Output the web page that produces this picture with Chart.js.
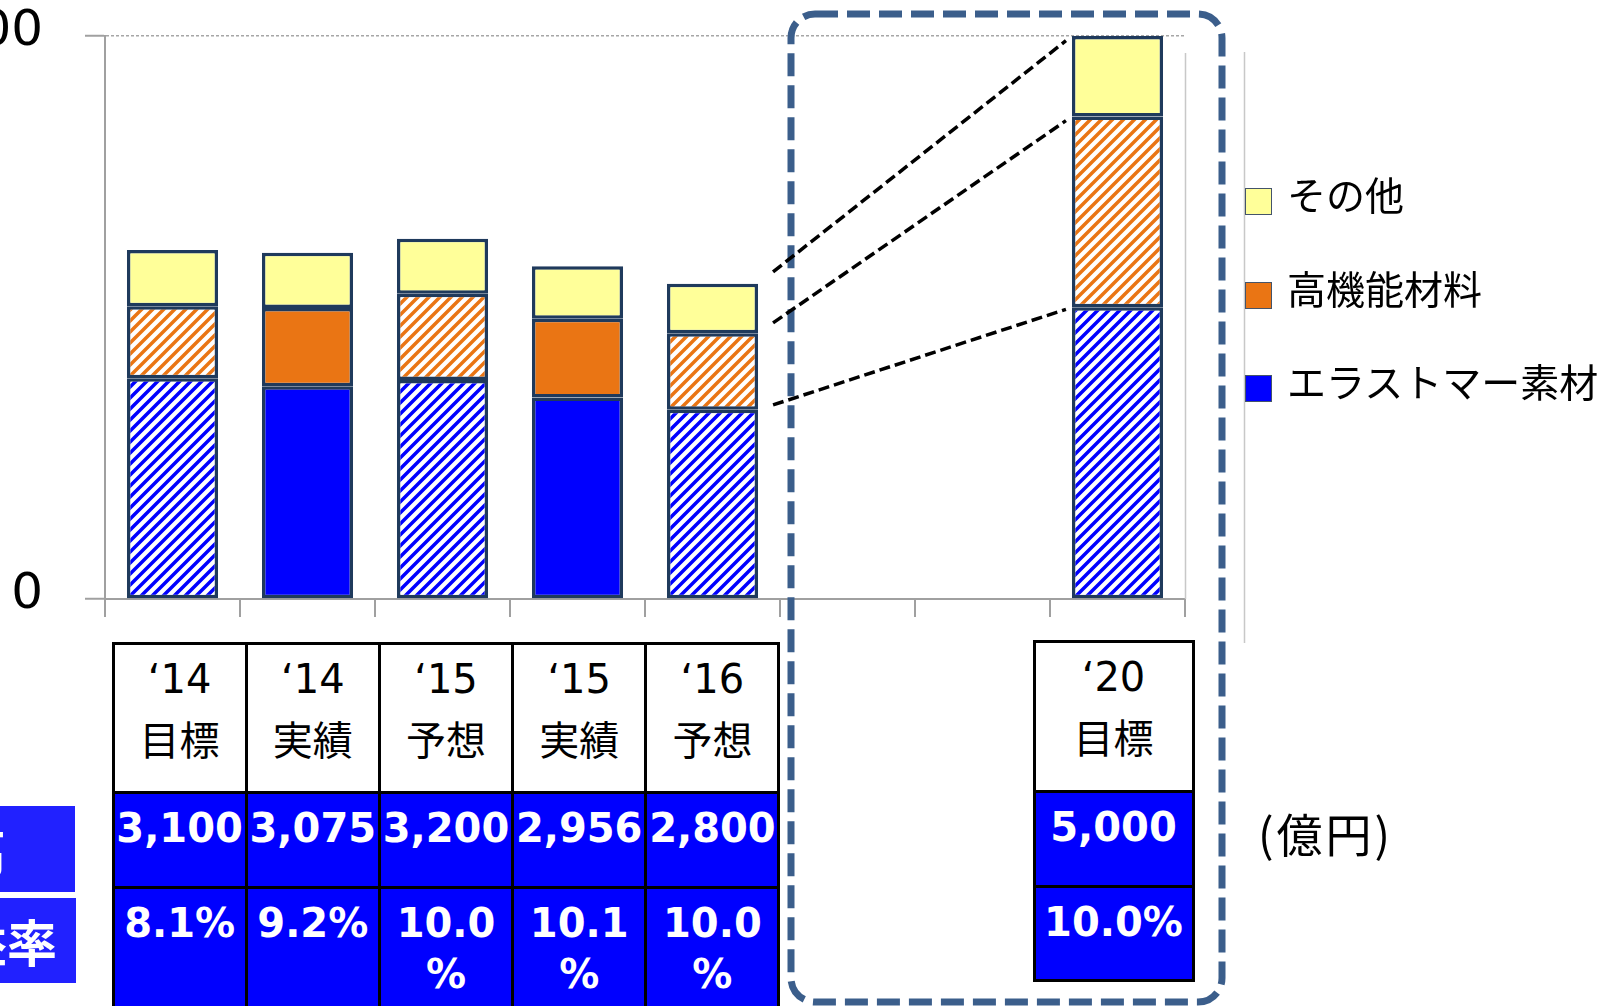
<!DOCTYPE html>
<html>
<head>
<meta charset="utf-8">
<script src="https://cdn.jsdelivr.net/npm/chart.js@4/dist/chart.umd.min.js"></script>
<style>
html,body{margin:0;padding:0;width:1607px;height:1006px;overflow:hidden;background:#fff;}
#c{position:absolute;left:0;top:0;}
.cell{position:absolute;box-sizing:border-box;border:3px solid #000;text-align:center;overflow:hidden;}
.hd{background:#fff;color:#000;font:40px "DejaVu Sans","Noto Sans CJK JP",sans-serif;line-height:62px;padding-top:3px;}
.bl{background:#0000FF;color:#fff;font:bold 40px "DejaVu Sans","Noto Sans CJK JP",sans-serif;line-height:51px;padding-top:9px;}
.side{position:absolute;background:#2121FF;color:#fff;font:bold 50px "Noto Sans CJK JP",sans-serif;text-align:center;white-space:nowrap;}
.lg{position:absolute;left:1245px;width:27px;height:27px;box-sizing:border-box;border:1.5px solid #44546A;}
.lt{position:absolute;left:1287px;font:39px "Noto Sans CJK JP",sans-serif;color:#000;line-height:50px;white-space:nowrap;}
#unit{position:absolute;left:1258px;top:805px;font:46px "Noto Sans CJK JP",sans-serif;line-height:54px;color:#000;white-space:nowrap;letter-spacing:3px;}
</style>
</head>
<body>
<canvas id="c" width="1607" height="1006"></canvas>
<div id="overlay"></div>
<script>
// ---- data ----
const years   = ['‘14','‘14','‘15','‘15','‘16','','','‘20'];
const kinds   = ['目標','実績','予想','実績','予想','','','目標'];
const labels  = years.map((y,i)=> y ? y + kinds[i] : '');
const elastomer = [1960, 1890, 1945, 1790, 1680, null, null, 2590];
const highPerf  = [ 640,  695,  765,  700,  680, null, null, 1695];
const others    = [ 500,  490,  490,  466,  440, null, null,  715];
const sales   = ['3,100','3,075','3,200','2,956','2,800','','','5,000'];
const margins = ['8.1%','9.2%','10.0%','10.1%','10.0%','','','10.0%'];
const seriesNames = ['エラストマー素材','高機能材料','その他'];
const isActual = [false,true,false,true,false,false,false,false];
const yTicks = [0, 5000];

// ---- styles ----
function hatch(color){
  const s=11, c=document.createElement('canvas'); c.width=s; c.height=s;
  const g=c.getContext('2d');
  g.fillStyle='#fff'; g.fillRect(0,0,s,s);
  g.strokeStyle=color; g.lineWidth=3.5;
  g.beginPath();
  g.moveTo(-1,s+1); g.lineTo(s+1,-1);
  g.moveTo(-s/2-1,s/2+1); g.lineTo(s/2+1,-s/2-1);
  g.moveTo(s/2-1,s*1.5+1); g.lineTo(s*1.5+1,s/2-1);
  g.stroke();
  return g.createPattern(c,'repeat');
}
const BLUE='#0000FF', ORANGE='#EA7514', YELLOW='#FFFF99', EDGE='#1F3A5C';
const hBlue=hatch(BLUE), hOrange=hatch(ORANGE);
const bgE = isActual.map(a=>a?BLUE:hBlue);
const bgH = isActual.map(a=>a?ORANGE:hOrange);

const deco = {
  id:'deco',
  beforeDatasetsDraw(chart){
    const ctx=chart.ctx;
    ctx.save();
    ctx.strokeStyle='#C8C8C8'; ctx.lineWidth=1.5;
    ctx.beginPath(); ctx.moveTo(1185.5,53); ctx.lineTo(1185.5,599); ctx.stroke();
    ctx.beginPath(); ctx.moveTo(1244.5,52); ctx.lineTo(1244.5,643); ctx.stroke();
    ctx.restore();
  },
  afterDraw(chart){
    const ctx=chart.ctx;
    const metas=[2,1,0].map(i=>chart.getDatasetMeta(i).data);
    const a=4,b=7;
    ctx.save();
    // dashed rounded frame
    ctx.strokeStyle='#3B5E8B'; ctx.lineWidth=7; ctx.setLineDash([23,9]);
    ctx.beginPath(); ctx.roundRect(791,14,431,988,24); ctx.stroke();
    // connectors
    ctx.strokeStyle='#000'; ctx.lineWidth=3.5; ctx.setLineDash([11,5]);
    for(const m of metas){
      const p=m[a], q=m[b];
      const x1=p.x+p.width/2, y1=p.y, x2=q.x-q.width/2, y2=q.y;
      const k=(y2-y1)/(x2-x1);
      const sx=x1+15, ex=x2-6;
      ctx.beginPath(); ctx.moveTo(sx,y1+k*15); ctx.lineTo(ex,y1+k*(ex-x1)); ctx.stroke();
    }
    ctx.restore();
  }
};

new Chart(document.getElementById('c'),{
  type:'bar',
  data:{
    labels:labels,
    datasets:[
      {label:seriesNames[0],data:elastomer,backgroundColor:bgE,borderColor:EDGE,borderWidth:3.5,borderSkipped:false},
      {label:seriesNames[1],data:highPerf,backgroundColor:bgH,borderColor:EDGE,borderWidth:3.5,borderSkipped:false},
      {label:seriesNames[2],data:others,backgroundColor:YELLOW,borderColor:EDGE,borderWidth:3.5,borderSkipped:false}
    ]
  },
  options:{
    responsive:false, animation:false, devicePixelRatio:1,
    layout:{padding:{left:0,top:36,right:422,bottom:387}},
    datasets:{bar:{categoryPercentage:1,barPercentage:0.675}},
    plugins:{legend:{display:false},tooltip:{enabled:false}},
    scales:{
      x:{stacked:true,
        ticks:{display:false},
        grid:{offset:true,drawOnChartArea:false,drawTicks:true,tickLength:18,color:'#A0A0A0',lineWidth:2},
        border:{display:true,color:'#A0A0A0',width:2},
        afterFit(s){s.height=20; s.paddingLeft=0; s.paddingRight=0;}
      },
      y:{stacked:true,min:yTicks[0],max:yTicks[1],
        afterBuildTicks(s){s.ticks=yTicks.map(v=>({value:v}));},
        ticks:{font:{family:'DejaVu Sans',size:50},color:'#000',padding:42,labelOffset:-4},
        grid:{color:'#A6A6A6',lineWidth:1.5,tickLength:20,tickBorderDash:[],tickColor:'#A0A0A0',tickWidth:2},
        border:{display:true,color:'#A0A0A0',width:2,dash:[3,2]},
        afterFit(s){s.width=105; s.paddingTop=0; s.paddingBottom=0;}
      }
    }
  },
  plugins:[deco]
});

// ---- HTML table, legend, labels ----
const ov=document.getElementById('overlay');
function cell(x,y,w,h,cls,html){
  const d=document.createElement('div'); d.className='cell '+cls;
  d.style.left=(x-1.5)+'px'; d.style.top=(y-1.5)+'px';
  d.style.width=(w+3)+'px'; d.style.height=(h+3)+'px';
  d.innerHTML=html; ov.appendChild(d);
}
const wrapPct = t => t.replace('%','<wbr>%');
const leftCols=[0,1,2,3,4];
leftCols.forEach((i,k)=>{
  const x=113+k*133.2, w=133.2;
  cell(x,643,w,149,'hd',years[i]+'<br>'+kinds[i]);
  cell(x,792,w,95,'bl',sales[i]);
  cell(x,887,w,140,'bl',wrapPct(margins[i]));
});
cell(1034,641,159,150,'hd',years[7]+'<br>'+kinds[7]);
cell(1034,791,159,95,'bl',sales[7]);
cell(1034,886,159,94,'bl',wrapPct(margins[7]));

function side(left,top,w,h,text){
  const d=document.createElement('div'); d.className='side';
  d.style.left=left+'px'; d.style.top=top+'px'; d.style.width=w+'px'; d.style.height=h+'px';
  d.style.lineHeight=h+'px'; d.textContent=text; ov.appendChild(d);
}
side(-213,806,288,86,'売上高');
side(-212,898,288,85,'営業利益率');

const legendItems=[[seriesNames[2],YELLOW,188,168],[seriesNames[1],ORANGE,282,262],[seriesNames[0],BLUE,375,355]];
legendItems.forEach(([t,c,sy,ty])=>{
  const s=document.createElement('div'); s.className='lg'; s.style.top=sy+'px'; s.style.background=c; ov.appendChild(s);
  const l=document.createElement('div'); l.className='lt'; l.style.top=ty+'px'; l.textContent=t; ov.appendChild(l);
});
const u=document.createElement('div'); u.id='unit'; u.textContent='(億円)'; ov.appendChild(u);
</script>
</body>
</html>
